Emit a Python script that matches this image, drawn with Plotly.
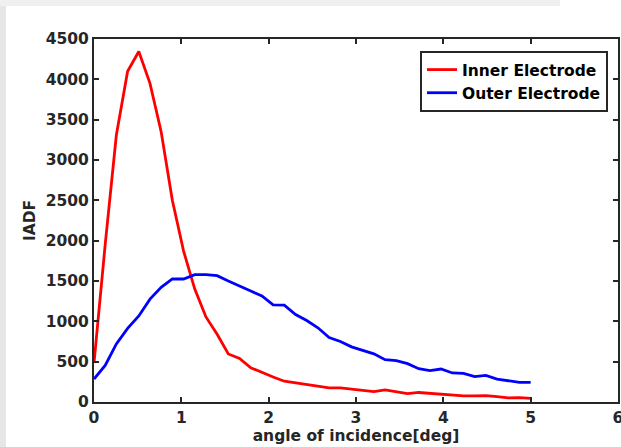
import plotly.graph_objects as go

# angle of incidence grid (deg)
angle = [0.000, 0.128, 0.256, 0.385, 0.513, 0.641, 0.769, 0.897, 1.026, 1.154,
         1.282, 1.410, 1.538, 1.667, 1.795, 1.923, 2.051, 2.179, 2.308, 2.436,
         2.564, 2.692, 2.821, 2.949, 3.077, 3.205, 3.333, 3.462, 3.590, 3.718,
         3.846, 3.974, 4.103, 4.231, 4.359, 4.487, 4.615, 4.744, 4.872, 5.000]

inner = [483, 1950, 3310, 4100, 4345, 3950, 3350, 2500, 1870, 1400,
         1055, 840, 595, 540, 425, 365, 310, 258, 236, 223,
         200, 174, 174, 158, 144, 128, 150, 128, 105, 118,
         107, 95, 90, 75, 77, 80, 66, 50, 54, 46]

outer = [285, 454, 720, 912, 1066, 1275, 1422, 1525, 1525, 1578,
         1578, 1566, 1500, 1442, 1376, 1314, 1203, 1200, 1085, 1010,
         920, 800, 750, 684, 636, 597, 525, 512, 475, 413,
         388, 409, 360, 355, 314, 330, 285, 264, 243, 243]

series_names = ["Inner Electrode", "Outer Electrode"]
series_colors = ["#ff0000", "#0000ff"]

x_ticks = [0, 1, 2, 3, 4, 5, 6]
y_ticks = [0, 500, 1000, 1500, 2000, 2500, 3000, 3500, 4000, 4500]

W, H = 621, 447
ML, MR, MT, MB = 94, 3, 39, 45
PW = W - ML - MR
PH = H - MT - MB

def px(p):
    return (p - ML) / PW

def py(q):
    return (H - MB - q) / PH

FONT = "DejaVu Sans"
TXT = "#262626"
FS = 15.5

fig = go.Figure()
for name, ys, col in zip(series_names, [inner, outer], series_colors):
    fig.add_trace(go.Scatter(x=angle, y=ys, mode="lines", name=name,
                             line=dict(color=col, width=2.8)))

axis_common = dict(
    showline=True, linecolor=TXT, linewidth=2, mirror="ticks",
    ticks="inside", ticklen=5, tickwidth=2, tickcolor=TXT,
    showgrid=False, zeroline=False, automargin=False,
    ticklabeloverflow="allow",
    tickfont=dict(family=FONT, size=FS, color=TXT, weight="bold"),
)

fig.update_layout(
    width=W, height=H,
    margin=dict(l=ML, r=MR, t=MT, b=MB, autoexpand=False),
    paper_bgcolor="white", plot_bgcolor="white",
    font=dict(family=FONT, color=TXT),
    xaxis=dict(range=[0, 6], tickvals=x_ticks, ticktext=[str(v) for v in x_ticks],
               title=dict(text="<b>angle of incidence[deg]</b>", standoff=4,
                          font=dict(family=FONT, size=FS, color=TXT)),
               **axis_common),
    yaxis=dict(range=[0, 4500], tickvals=y_ticks, ticktext=[str(v) for v in y_ticks],
               title=dict(text="<b>IADF</b>", standoff=6,
                          font=dict(family=FONT, size=FS, color=TXT)),
               **axis_common),
    legend=dict(x=px(608), y=py(51), xanchor="right", yanchor="top",
                bgcolor="white", bordercolor=TXT, borderwidth=2,
                font=dict(family=FONT, size=FS, color="black", weight="bold"),
                itemwidth=30, tracegroupgap=0),
    showlegend=True,
    shapes=[
        dict(type="rect", xref="paper", yref="paper", layer="below",
             x0=px(0), x1=px(6), y0=py(H), y1=py(0),
             fillcolor="#e6e6e6", line=dict(width=0)),
        dict(type="rect", xref="paper", yref="paper", layer="below",
             x0=px(0), x1=px(560), y0=py(6), y1=py(0),
             fillcolor="#f0f0f0", line=dict(width=0)),
    ],
)

fig.write_html("out.html", config={"displayModeBar": False})
